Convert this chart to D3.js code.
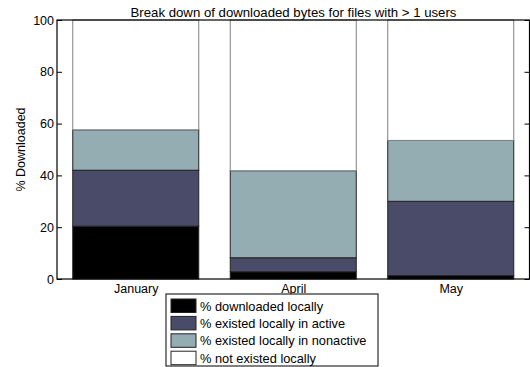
<!DOCTYPE html>
<html>
<head>
<meta charset="utf-8">
<script src="https://cdn.jsdelivr.net/npm/d3@7"></script>
<style>
  body { margin: 0; background: white; }
  svg { display: block; font-family: "Liberation Sans", Arial, sans-serif; }
</style>
</head>
<body>
<svg width="530" height="367"></svg>
<script>
const months = ["January", "April", "May"]
const seriesNames = ["% downloaded locally", "% existed locally in active", "% existed locally in nonactive", "% not existed locally"]
const downloadedLocally = [20.4, 2.8, 1.3]
const activeLocally = [21.6, 5.4, 28.7]
const nonactiveLocally = [15.6, 33.6, 23.5]
const notExisted = [42.4, 58.2, 46.5]
const yTicks = [0, 20, 40, 60, 80, 100]
const colors = ["#000000", "#4a4a69", "#94adb3", "#ffffff"]
const edgeColors = ["#222222", "#222222", "#222222", "#808080"]

function drawChart() {
    const svg = d3.select("svg")
    const left = 57, right = 529.5, top = 20, bottom = 279

    const x = d3.scaleLinear().domain([0.5, 3.5]).range([left, right])
    const y = d3.scaleLinear().domain([0, 100]).range([bottom, top])
    const barWidth = (x(1) - x(0)) * 0.8

    const series = [downloadedLocally, activeLocally, nonactiveLocally, notExisted]
    const rows = months.map((m, i) => {
        const row = { month: m, idx: i + 1 }
        series.forEach((s, k) => row["s" + k] = s[i])
        return row
    })
    const stacked = d3.stack().keys(series.map((_, k) => "s" + k))(rows)

    stacked.forEach((layer, k) => {
        svg.append("g")
            .selectAll("rect")
            .data(layer)
            .enter()
            .append("rect")
            .attr("x", d => x(d.data.idx) - barWidth / 2)
            .attr("width", barWidth)
            .attr("y", d => y(d[1]))
            .attr("height", d => y(d[0]) - y(d[1]))
            .attr("fill", colors[k])
            .attr("stroke", edgeColors[k])
            .attr("stroke-width", 1)
    })

    // frame: left, bottom and right axes plus top line
    const yAxis = d3.axisLeft(y).tickValues(yTicks).tickSize(-5).tickPadding(3)
    const gy = svg.append("g").attr("transform", `translate(${left},0)`).call(yAxis)
    gy.select(".domain").remove()
    gy.selectAll("text").attr("font-size", 12.5).attr("font-family", "Liberation Sans, Arial, sans-serif").attr("fill", "#000")
    gy.selectAll("line").attr("stroke", "#000")

    const yAxisR = d3.axisRight(y).tickValues(yTicks).tickSize(-5).tickFormat("")
    const gyr = svg.append("g").attr("transform", `translate(${right},0)`).call(yAxisR)
    gyr.select(".domain").remove()
    gyr.selectAll("line").attr("stroke", "#000")

    svg.append("rect")
        .attr("x", left).attr("y", top)
        .attr("width", right - left).attr("height", bottom - top)
        .attr("fill", "none").attr("stroke", "#000").attr("stroke-width", 1.2)

    const xAxis = d3.axisBottom(x).tickValues([1, 2, 3]).tickFormat((d, i) => months[i]).tickSize(0).tickPadding(5)
    const gx = svg.append("g").attr("transform", `translate(0,${bottom})`).call(xAxis)
    gx.select(".domain").remove()
    gx.selectAll("text").attr("font-size", 12.5).attr("font-family", "Liberation Sans, Arial, sans-serif").attr("fill", "#000")

    svg.append("text")
        .attr("x", 293.5)
        .attr("y", 17)
        .attr("text-anchor", "middle")
        .attr("font-size", 13.2)
        .text("Break down of downloaded bytes for files with > 1 users")

    svg.append("text")
        .attr("transform", `translate(25,${(top + bottom) / 2}) rotate(-90)`)
        .attr("text-anchor", "middle")
        .attr("font-size", 12.5)
        .text("% Downloaded")

    // legend
    const legend = svg.append("g").attr("transform", "translate(166,294)")
    legend.append("rect")
        .attr("width", 212).attr("height", 72)
        .attr("fill", "white").attr("stroke", "#000")
    seriesNames.forEach((name, k) => {
        const row = legend.append("g").attr("transform", `translate(5,${5 + k * 17.4})`)
        row.append("rect")
            .attr("width", 25).attr("height", 13.5)
            .attr("fill", colors[k]).attr("stroke", "#222")
        row.append("text")
            .attr("x", 29).attr("y", 11.5)
            .attr("font-size", 12.8)
            .text(name)
    })
}
drawChart()
</script>
</body>
</html>
